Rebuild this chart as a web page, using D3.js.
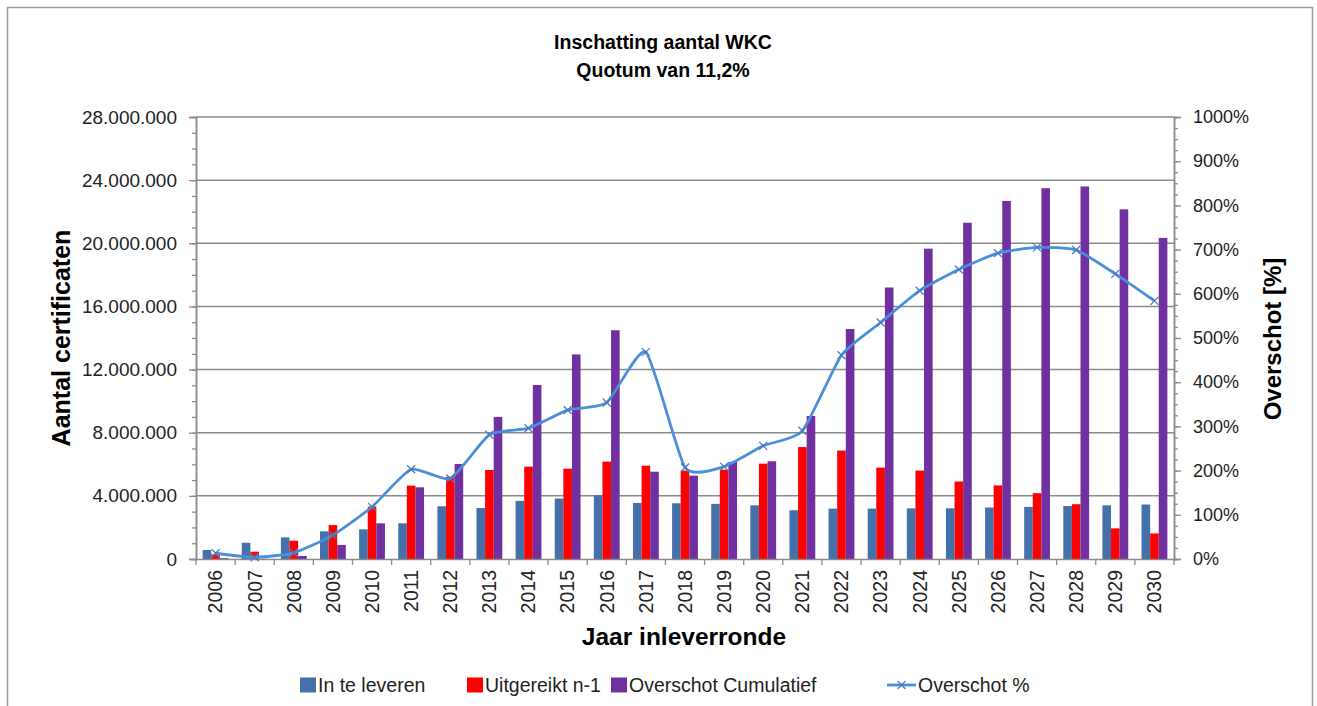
<!DOCTYPE html>
<html lang="nl">
<head>
<meta charset="UTF-8">
<title>Inschatting aantal WKC</title>
<script src="https://cdn.jsdelivr.net/npm/d3@7"></script>
<style type="text/css">
	body { margin: 0; background: #fff; }
	svg { display: block; font-family: "Liberation Sans", Arial, sans-serif; }
	.tick text { fill: #222; }
</style>
</head>
<body>
<div id="chart"></div>
<script type="text/javascript">

// jaren (categorieen)
const years = ["2006","2007","2008","2009","2010","2011","2012","2013","2014","2015","2016","2017","2018",
	"2019","2020","2021","2022","2023","2024","2025","2026","2027","2028","2029","2030"];

// aantal certificaten per jaar
const inTeLeveren = [570000, 1030000, 1370000, 1750000, 1880000, 2260000, 3340000, 3230000, 3680000, 3830000,
	4040000, 3550000, 3530000, 3490000, 3400000, 3090000, 3190000, 3190000, 3210000, 3210000, 3260000,
	3300000, 3360000, 3400000, 3450000];
const uitgereikt = [300000, 460000, 1160000, 2150000, 3320000, 4650000, 5210000, 5640000, 5850000, 5720000,
	6170000, 5910000, 5600000, 5660000, 6040000, 7090000, 6870000, 5790000, 5600000, 4910000, 4660000,
	4170000, 3470000, 1940000, 1620000];
const overschotCum = [50000, 20000, 190000, 890000, 2260000, 4540000, 6020000, 9000000, 11020000, 12960000,
	14490000, 5530000, 5280000, 6150000, 6190000, 9060000, 14570000, 17200000, 19660000, 21300000,
	22680000, 23490000, 23600000, 22150000, 20340000];

// overschot in procent (rechter as)
const overschotPct = [13, 4, 14, 54, 118, 203, 182, 281, 296, 337, 354, 468, 207, 209, 256, 290, 461, 535,
	607, 655, 692, 705, 699, 645, 584];

// as-indeling
const leftTicks = [0, 4000000, 8000000, 12000000, 16000000, 20000000, 24000000, 28000000];
const rightTicks = [0, 100, 200, 300, 400, 500, 600, 700, 800, 900, 1000];

const seriesNames = ["In te leveren", "Uitgereikt n-1", "Overschot Cumulatief", "Overschot %"];
const colors = ["#4471a9", "#ff0000", "#7030a0", "#4a8fda"];

const width = 1317, height = 706;
const margin = {left: 196, right: 1317 - 1174, top: 117, bottom: 706 - 559};
const gridColor = "#8a8a8a";

const svg = d3.select("#chart").append("svg")
	.attr("width", width)
	.attr("height", height);

// kader rond de grafiek
svg.append("rect")
	.attr("x", 7.5).attr("y", 7.5)
	.attr("width", 1305).attr("height", 720)
	.attr("fill", "none")
	.attr("stroke", "#9a9a9a")
	.attr("stroke-width", 1.5);

const x = d3.scaleBand()
	.domain(years)
	.range([margin.left, width - margin.right])
	.padding(0);

const y = d3.scaleLinear()
	.domain([0, 28000000])
	.range([height - margin.bottom, margin.top]);

const yPct = d3.scaleLinear()
	.domain([0, 1000])
	.range([height - margin.bottom, margin.top]);

const nl = d3.formatLocale({decimal: ",", thousands: ".", grouping: [3], currency: ["€", ""]});
const fmt = nl.format(",d");

// rasterlijnen
svg.append("g")
	.selectAll("line")
	.data(leftTicks.slice(1))
	.enter().append("line")
	.attr("x1", margin.left).attr("x2", width - margin.right)
	.attr("y1", d => y(d)).attr("y2", d => y(d))
	.attr("stroke", gridColor)
	.attr("stroke-width", 1.5);

// balken
const barW = x.bandwidth() * 0.22;
const series = [inTeLeveren, uitgereikt, overschotCum];
series.forEach(function(vals, s) {
	svg.append("g")
		.selectAll("rect")
		.data(vals)
		.enter().append("rect")
		.attr("x", (d, i) => x(years[i]) + x.bandwidth() / 2 - 1.5 * barW + s * barW)
		.attr("y", d => y(d))
		.attr("width", barW)
		.attr("height", d => y(0) - y(d))
		.attr("fill", colors[s]);
});

// linker as
const leftAxis = svg.append("g")
	.attr("transform", "translate(" + margin.left + ",0)")
	.call(d3.axisLeft(y).tickValues(leftTicks).tickFormat(fmt).tickSize(7).tickPadding(12));
const leftMinor = svg.append("g")
	.attr("transform", "translate(" + margin.left + ",0)")
	.call(d3.axisLeft(y).tickValues(d3.range(0, 28000001, 1000000)).tickFormat("").tickSize(4));

// rechter as
const rightAxis = svg.append("g")
	.attr("transform", "translate(" + (width - margin.right) + ",0)")
	.call(d3.axisRight(yPct).tickValues(rightTicks).tickFormat(d => d + "%").tickSize(7).tickPadding(12));
const rightMinor = svg.append("g")
	.attr("transform", "translate(" + (width - margin.right) + ",0)")
	.call(d3.axisRight(yPct).tickValues(d3.range(0, 1001, 25)).tickFormat("").tickSize(4));

// onderste as
const bottomAxis = svg.append("g")
	.attr("transform", "translate(0," + (height - margin.bottom) + ")")
	.call(d3.axisBottom(x).tickSize(0).tickPadding(0));
bottomAxis.selectAll(".tick text")
	.attr("transform", "rotate(-90)")
	.attr("text-anchor", "end")
	.attr("x", -11)
	.attr("y", 0)
	.attr("dy", "0.35em");
svg.append("g")
	.selectAll("line")
	.data(d3.range(years.length + 1))
	.enter().append("line")
	.attr("x1", i => margin.left + i * x.step()).attr("x2", i => margin.left + i * x.step())
	.attr("y1", height - margin.bottom).attr("y2", height - margin.bottom + 6)
	.attr("stroke", gridColor)
	.attr("stroke-width", 1.3);

[leftAxis, leftMinor, rightAxis, rightMinor, bottomAxis].forEach(function(g) {
	g.select(".domain").attr("stroke", gridColor).attr("stroke-width", 1.5);
	g.selectAll(".tick line").attr("stroke", gridColor).attr("stroke-width", 1.3);
});
leftAxis.selectAll(".tick text").style("font-size", "19px");
rightAxis.selectAll(".tick text").style("font-size", "18px");
bottomAxis.selectAll(".tick text").style("font-size", "19.5px");

// lijn overschot %
const line = d3.line()
	.x((d, i) => x(years[i]) + x.bandwidth() / 2)
	.y(d => yPct(d))
	.curve(d3.curveCardinal.tension(0.45));

svg.append("path")
	.datum(overschotPct)
	.attr("d", line)
	.attr("fill", "none")
	.attr("stroke", colors[3])
	.attr("stroke-width", 2.8);

const m = 4;
const marks = svg.append("g")
	.selectAll("path")
	.data(overschotPct)
	.enter().append("path")
	.attr("transform", (d, i) => "translate(" + (x(years[i]) + x.bandwidth() / 2) + "," + yPct(d) + ")")
	.attr("d", "M" + (-m) + "," + (-m) + "L" + m + "," + m + "M" + (-m) + "," + m + "L" + m + "," + (-m))
	.attr("stroke", "#4a7cc0")
	.attr("stroke-width", 1.3);

// titels
svg.append("text")
	.attr("x", 663).attr("y", 49)
	.attr("text-anchor", "middle")
	.style("font-size", "19.5px").style("font-weight", "bold")
	.text("Inschatting aantal WKC");
svg.append("text")
	.attr("x", 663).attr("y", 77)
	.attr("text-anchor", "middle")
	.style("font-size", "19.5px").style("font-weight", "bold")
	.text("Quotum van 11,2%");

svg.append("text")
	.attr("transform", "translate(70,338) rotate(-90)")
	.attr("text-anchor", "middle")
	.style("font-size", "25px").style("font-weight", "bold")
	.text("Aantal certificaten");

svg.append("text")
	.attr("transform", "translate(1281,339) rotate(-90)")
	.attr("text-anchor", "middle")
	.style("font-size", "24px").style("font-weight", "bold")
	.text("Overschot [%]");

svg.append("text")
	.attr("x", 684).attr("y", 645)
	.attr("text-anchor", "middle")
	.style("font-size", "24.5px").style("font-weight", "bold")
	.text("Jaar inleverronde");

// legenda
const legendX = [300, 467, 611, 887];
const legend = svg.append("g");
seriesNames.forEach(function(name, i) {
	const g = legend.append("g").attr("transform", "translate(" + legendX[i] + ",685)");
	let tx;
	if (i < 3) {
		g.append("rect")
			.attr("x", 0).attr("y", -7.5)
			.attr("width", 16).attr("height", 15)
			.attr("fill", colors[i]);
		tx = 18;
	} else {
		g.append("line")
			.attr("x1", 0).attr("x2", 29)
			.attr("y1", 0).attr("y2", 0)
			.attr("stroke", colors[3]).attr("stroke-width", 2.8);
		g.append("path")
			.attr("transform", "translate(14.5,0)")
			.attr("d", "M-4,-4L4,4M-4,4L4,-4")
			.attr("stroke", "#4a7cc0").attr("stroke-width", 1.3);
		tx = 31;
	}
	g.append("text")
		.attr("x", tx).attr("y", 0)
		.attr("dy", "0.35em")
		.style("font-size", "19.5px")
		.attr("fill", "#222")
		.text(name);
});

</script>
</body>
</html>
